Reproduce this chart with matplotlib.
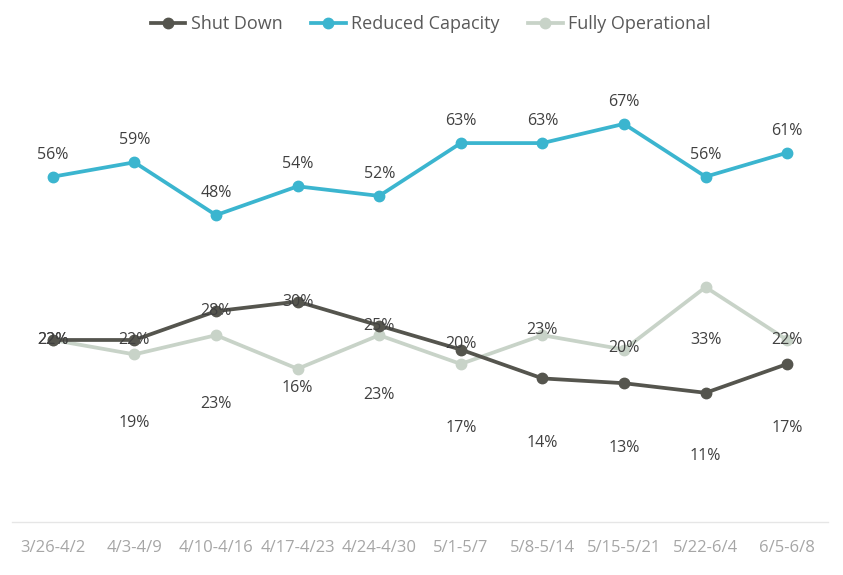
import matplotlib
matplotlib.use("Agg")
import matplotlib.pyplot as plt

plt.rcParams['font.family'] = ['Open Sans', 'DejaVu Sans']

# weekly periods
periods = ["3/26-4/2", "4/3-4/9", "4/10-4/16", "4/17-4/23", "4/24-4/30",
           "5/1-5/7", "5/8-5/14", "5/15-5/21", "5/22-6/4", "6/5-6/8"]

# share of businesses (%)
shut_down = [22, 22, 28, 30, 25, 20, 14, 13, 11, 17]
reduced_capacity = [56, 59, 48, 54, 52, 63, 63, 67, 56, 61]
fully_operational = [22, 19, 23, 16, 23, 17, 23, 20, 33, 22]

# where the data labels sit relative to their point (pixels, upward)
shut_label_dy = [0, 0, 0, 0, 0, 6, -65, -65, -63, -64]
full_label_dy = [0, -69, -69, -19, -60, -64, 5, 2, -53, 0]
reduced_label_dy = [22] * 10

c_shut = "#55554e"
c_reduced = "#3bb5cf"
c_full = "#c8d3c8"
label_color = "#404040"

fig = plt.figure(figsize=(8.43, 5.75), dpi=100)
ax = fig.add_axes([12 / 843, 53 / 575, 816 / 843, 462 / 575])

x = list(range(len(periods)))
lw = 2.7
ms = 7.5
ax.plot(x, reduced_capacity, color=c_reduced, lw=lw, marker='o', ms=ms, label="Reduced Capacity", zorder=3)
ax.plot(x, fully_operational, color=c_full, lw=lw, marker='o', ms=ms, label="Fully Operational", zorder=3)
ax.plot(x, shut_down, color=c_shut, lw=lw, marker='o', ms=ms, label="Shut Down", zorder=4)

for vals, dys in [(reduced_capacity, reduced_label_dy), (fully_operational, full_label_dy), (shut_down, shut_label_dy)]:
    for i, (v, dy) in enumerate(zip(vals, dys)):
        ax.annotate(f"{v}%", (i, v), xytext=(0, dy), textcoords='offset pixels',
                    ha='center', va='center', fontsize=11.5, color=label_color, zorder=5)

ax.set_xlim(-0.5, len(periods) - 0.5)
ax.set_ylim(-15.9, 80.3)
ax.set_xticks(x)
ax.set_xticklabels(periods, fontsize=12, color="#a6a6a6")
ax.tick_params(axis='x', length=0, pad=13)
ax.set_yticks([])
for side in ['top', 'left', 'right']:
    ax.spines[side].set_visible(False)
ax.spines['bottom'].set_color("#e6e6e6")
ax.spines['bottom'].set_linewidth(1)

handles, labels = ax.get_legend_handles_labels()
order = [2, 0, 1]
leg = fig.legend([handles[i] for i in order], [labels[i] for i in order],
                 loc='center', bbox_to_anchor=(0.511, 1 - 24 / 575), ncol=3, frameon=False,
                 fontsize=13, handlelength=1.9, handletextpad=0.3, columnspacing=1.6)
for t in leg.get_texts():
    t.set_color("#595959")

fig.savefig("out.png", dpi=100, facecolor="white")
